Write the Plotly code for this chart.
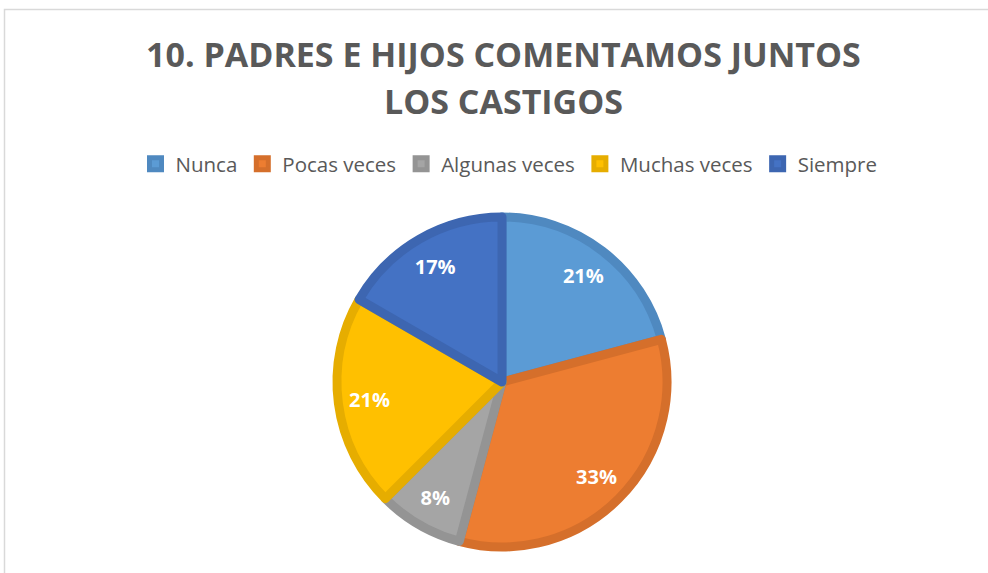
import plotly.graph_objects as go

categories = ["Nunca", "Pocas veces", "Algunas veces", "Muchas veces", "Siempre"]
counts = [5, 8, 2, 5, 4]
fill_colors = ["#5B9BD5", "#ED7D31", "#A5A5A5", "#FFC000", "#4472C4"]
edge_colors = ["#4F89C0", "#D56F2B", "#949494", "#E6AD00", "#3D66B1"]
title_lines = ["10. PADRES E HIJOS COMENTAMOS JUNTOS", "LOS CASTIGOS"]

W, H = 988, 573
cx, cy, r = 502, 382, 165
dom = dict(x=[(cx - r) / W, (cx + r) / W], y=[1 - (cy + r) / H, 1 - (cy - r) / H])

fig = go.Figure()
fig.add_trace(go.Pie(
    labels=categories,
    values=counts,
    sort=False,
    direction="clockwise",
    rotation=0,
    marker=dict(colors=fill_colors, line=dict(color=edge_colors, width=9)),
    textinfo="none",
    domain=dom,
    hoverinfo="label+percent",
))
# transparent ring used only to place the percentage labels further out
fig.add_trace(go.Pie(
    labels=categories,
    values=counts,
    sort=False,
    direction="clockwise",
    rotation=0,
    hole=0.62,
    marker=dict(colors=["rgba(0,0,0,0)"] * len(categories), line=dict(width=0)),
    texttemplate="%{percent:.0%}",
    textposition="inside",
    insidetextorientation="horizontal",
    textfont=dict(family="Open Sans", size=20, color="white", weight="bold"),
    domain=dom,
    showlegend=False,
    hoverinfo="skip",
))

fig.add_shape(type="rect", xref="paper", yref="paper",
              x0=4.5 / W, x1=1.2, y0=-0.2, y1=1 - 9.5 / H,
              line=dict(color="#D9D9D9", width=1.5), fillcolor="rgba(0,0,0,0)", layer="below")

for txt, yc in zip(title_lines, [54, 101]):
    fig.add_annotation(text=f"<b>{txt}</b>", x=503 / W, y=1 - yc / H, xref="paper", yref="paper",
                       xanchor="center", yanchor="middle", showarrow=False,
                       font=dict(family="Open Sans", size=34, color="#595959"))

fig.update_layout(
    width=W, height=H,
    margin=dict(l=0, r=0, t=0, b=0),
    paper_bgcolor="white", plot_bgcolor="white",
    showlegend=True,
    legend=dict(orientation="h", x=509 / W, xanchor="center", y=1 - 164 / H, yanchor="middle",
                font=dict(family="Open Sans", size=20.5, color="#595959"),
                itemclick=False, itemdoubleclick=False, traceorder="normal"),
)

fig.write_html("out.html", config={"displayModeBar": False},
               post_script="document.body.style.margin='0';document.body.style.overflow='hidden';")
